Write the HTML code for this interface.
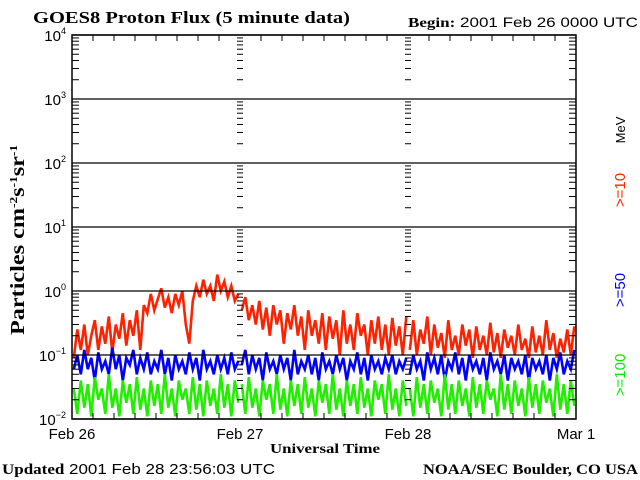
<!DOCTYPE html>
<html><head><meta charset="utf-8"><style>
body{margin:0;background:#fff;}
svg{display:block;}
.serif{font-family:"Liberation Serif",serif;font-weight:bold;}
.sans{font-family:"Liberation Sans",sans-serif;}
</style></head><body>
<svg id="chart" width="640" height="480" viewBox="0 0 640 480" xmlns="http://www.w3.org/2000/svg">
<text x="33" y="23" class="serif" font-size="17" textLength="317" lengthAdjust="spacingAndGlyphs">GOES8 Proton Flux (5 minute data)</text>
<text x="408" y="27" font-size="14" font-family="Liberation Sans,sans-serif" textLength="230" lengthAdjust="spacingAndGlyphs"><tspan class="serif">Begin:</tspan> 2001 Feb 26 0000 UTC</text>
<text transform="translate(24,240) rotate(-90)" text-anchor="middle" class="serif" font-size="20" textLength="190" lengthAdjust="spacingAndGlyphs">Particles cm<tspan dy="-7" font-size="11">-2</tspan><tspan dy="7">s</tspan><tspan dy="-7" font-size="11">-1</tspan><tspan dy="7">sr</tspan><tspan dy="-7" font-size="11">-1</tspan></text>
<text x="270" y="453" class="serif" font-size="14" textLength="110" lengthAdjust="spacingAndGlyphs">Universal Time</text>
<text x="2" y="474" font-size="15" class="sans" textLength="273" lengthAdjust="spacingAndGlyphs"><tspan class="serif">Updated</tspan> 2001 Feb 28 23:56:03 UTC</text>
<text x="423" y="474" class="serif" font-size="15" textLength="215" lengthAdjust="spacingAndGlyphs">NOAA/SEC Boulder, CO USA</text>
<text transform="translate(625,130) rotate(-90)" text-anchor="middle" class="sans" font-size="13" fill="#000">MeV</text>
<text transform="translate(625,190) rotate(-90)" text-anchor="middle" class="sans" font-size="15" fill="#ff2200">&gt;=10</text>
<text transform="translate(625,290) rotate(-90)" text-anchor="middle" class="sans" font-size="15" fill="#0000ff">&gt;=50</text>
<text transform="translate(625,375) rotate(-90)" text-anchor="middle" class="sans" font-size="15" fill="#00ee00">&gt;=100</text>
<g id="plot"></g>
</svg>
<script>
const dayLabels=["Feb 26","Feb 27","Feb 28","Mar 1"];
const decadeExp=[4,3,2,1,0,-1,-2];
const red=[0.09,0.25,0.12,0.3,0.1,0.2,0.35,0.12,0.28,0.15,0.4,0.11,0.3,0.18,0.45,0.14,0.35,0.2,0.5,0.12,0.6,0.45,0.9,0.5,0.75,1.1,0.55,0.8,0.45,0.9,0.6,1.0,0.3,0.15,0.7,1.2,0.8,1.5,0.9,1.2,0.7,1.8,1.0,1.4,0.8,1.2,0.7,0.9,
0.5,0.8,0.35,0.6,0.3,0.7,0.25,0.55,0.2,0.6,0.3,0.5,0.15,0.45,0.25,0.6,0.2,0.4,0.12,0.5,0.2,0.35,0.15,0.45,0.12,0.4,0.18,0.35,0.1,0.5,0.15,0.3,0.12,0.45,0.2,0.3,0.1,0.35,0.15,0.4,0.12,0.3,0.1,0.38,0.14,0.28,0.1,0.4,
0.12,0.35,0.1,0.25,0.15,0.4,0.1,0.3,0.13,0.22,0.09,0.35,0.12,0.2,0.1,0.3,0.14,0.25,0.09,0.28,0.12,0.2,0.1,0.32,0.11,0.22,0.09,0.25,0.13,0.2,0.1,0.3,0.12,0.18,0.09,0.28,0.11,0.2,0.1,0.35,0.12,0.22,0.09,0.18,0.11,0.25,0.1,0.28];
const blue=[0.06,0.1,0.05,0.12,0.06,0.09,0.04,0.11,0.06,0.08,0.05,0.13,0.06,0.1,0.04,0.09,0.07,0.12,0.05,0.09,0.06,0.11,0.05,0.08,0.06,0.12,0.05,0.09,0.04,0.1,0.06,0.08,0.05,0.11,0.06,0.09,0.04,0.12,0.06,0.08,0.05,0.1,0.06,0.09,0.05,0.11,0.06,0.08,
0.07,0.12,0.05,0.1,0.06,0.09,0.04,0.11,0.06,0.08,0.05,0.1,0.06,0.09,0.04,0.12,0.05,0.08,0.06,0.1,0.05,0.09,0.04,0.11,0.06,0.08,0.05,0.1,0.06,0.09,0.04,0.08,0.06,0.11,0.05,0.09,0.04,0.1,0.06,0.08,0.05,0.09,0.06,0.1,0.05,0.08,0.06,0.09,
0.05,0.1,0.06,0.08,0.04,0.11,0.06,0.09,0.05,0.1,0.04,0.08,0.06,0.11,0.05,0.09,0.04,0.1,0.06,0.08,0.05,0.09,0.04,0.11,0.06,0.08,0.05,0.1,0.04,0.09,0.06,0.08,0.05,0.1,0.04,0.09,0.06,0.08,0.05,0.1,0.04,0.09,0.06,0.11,0.05,0.08,0.06,0.12];
const green=[0.03,0.012,0.04,0.015,0.035,0.011,0.045,0.02,0.03,0.012,0.05,0.015,0.03,0.011,0.04,0.018,0.035,0.012,0.045,0.014,0.03,0.011,0.04,0.016,0.035,0.012,0.05,0.015,0.03,0.011,0.04,0.02,0.03,0.012,0.045,0.014,0.035,0.011,0.04,0.016,0.03,0.012,0.05,0.015,0.035,0.011,0.04,0.018,
0.035,0.012,0.045,0.015,0.03,0.011,0.04,0.02,0.035,0.012,0.05,0.014,0.03,0.011,0.04,0.016,0.035,0.012,0.045,0.015,0.03,0.011,0.04,0.018,0.035,0.012,0.05,0.014,0.03,0.011,0.04,0.016,0.035,0.012,0.045,0.015,0.03,0.011,0.04,0.02,0.035,0.012,0.05,0.014,0.03,0.011,0.04,0.016,
0.03,0.011,0.045,0.015,0.035,0.012,0.04,0.018,0.03,0.011,0.05,0.014,0.035,0.012,0.04,0.016,0.03,0.011,0.045,0.015,0.035,0.012,0.04,0.02,0.03,0.011,0.05,0.014,0.035,0.012,0.04,0.016,0.03,0.011,0.045,0.015,0.035,0.012,0.04,0.018,0.03,0.011,0.05,0.014,0.035,0.012,0.04,0.016];
const NS="http://www.w3.org/2000/svg";
const X0=72,X1=576,Y0=35,Y1=419,H=72;
const xs=t=>X0+(X1-X0)*t/H;
const ys=v=>Y1-(Math.log10(v)+2)*(Y1-Y0)/6;
const g=document.getElementById('plot');
function mk(tag,at){const e=document.createElementNS(NS,tag);for(const k in at)e.setAttribute(k,at[k]);g.appendChild(e);return e;}
function series(arr,color,name){
  const per=arr.length/3;
  for(let d=0;d<3;d++){
    let pts=[];
    for(let i=0;i<per;i++){const idx=d*per+i;const t=(idx+0.5)*H/arr.length;pts.push(xs(t).toFixed(1)+","+ys(arr[idx]).toFixed(1));}
    const p=mk('polyline',{points:pts.join(' '),fill:'none',stroke:color,'stroke-width':2.6,'stroke-linejoin':'miter'});
    
    
  }
}
series(red,'#ff2200','series-ge10');
series(blue,'#0000ff','series-ge50');
series(green,'#22ee00','series-ge100');
decadeExp.forEach(e=>{
  const y=ys(Math.pow(10,e));
  const l=mk('line',{x1:X0,x2:X1,y1:y,y2:y,stroke:'#000','stroke-width':1.3});
  
  
  const t=mk('text',{x:X0-6,y:y+6,'text-anchor':'end','font-family':'Liberation Sans,sans-serif','font-size':15});
  t.textContent='10';
  
  
  const s=document.createElementNS(NS,'tspan');s.setAttribute('dy','-7');s.setAttribute('font-size','9');s.textContent=String(e).replace('-','\u2212');t.appendChild(s);
  if(e>-2){
    for(let m=2;m<=9;m++){
      const yy=ys(m*Math.pow(10,e-1));
      [[X0,X0+7],[X1-7,X1],[xs(24)-3,xs(24)+3],[xs(48)-3,xs(48)+3]].forEach(([a,b])=>{
        const tk=mk('line',{x1:a,x2:b,y1:yy,y2:yy,stroke:'#000','stroke-width':1});
        
        
      });
    }
  }
});
const fr=mk('rect',{x:X0,y:Y0,width:X1-X0,height:Y1-Y0,fill:'none',stroke:'#000','stroke-width':1.5});


for(let h=3;h<H;h+=3){
  const x=xs(h);const len=(h%24===0)?0:6;
  if(len){
    const a=mk('line',{x1:x,x2:x,y1:Y1,y2:Y1-len,stroke:'#000'});
    
    
    const b=mk('line',{x1:x,x2:x,y1:Y0,y2:Y0+len,stroke:'#000'});
    
    
  }
}
dayLabels.forEach((lab,i)=>{
  const x=xs(i*24);
  const t=mk('text',{x:x,y:439,'text-anchor':'middle','font-family':'Liberation Sans,sans-serif','font-size':15});
  t.textContent=lab;
  
  
});
</script>
</body></html>
